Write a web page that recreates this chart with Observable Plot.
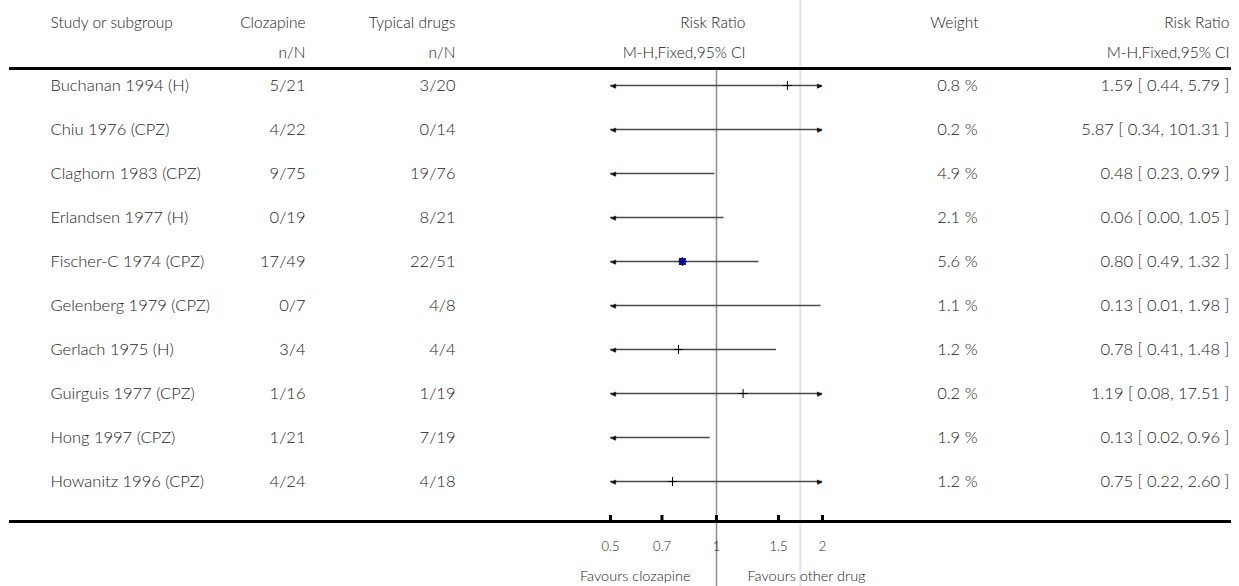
<!DOCTYPE html>
<html><head><meta charset="utf-8">
<script src="https://cdn.jsdelivr.net/npm/d3@7"></script>
<script src="https://cdn.jsdelivr.net/npm/@observablehq/plot@0.6"></script>
<style>
body{margin:0;background:#fff;}
</style></head><body><div id="chart"></div>
<script>
const studies = ["Buchanan 1994 (H)", "Chiu 1976 (CPZ)", "Claghorn 1983 (CPZ)", "Erlandsen 1977 (H)", "Fischer-C 1974 (CPZ)", "Gelenberg 1979 (CPZ)", "Gerlach 1975 (H)", "Guirguis 1977 (CPZ)", "Hong 1997 (CPZ)", "Howanitz 1996 (CPZ)"];
const clozapineEvents = [5, 4, 9, 0, 17, 0, 3, 1, 1, 4];
const clozapineTotal = [21, 22, 75, 19, 49, 7, 4, 16, 21, 24];
const typicalEvents = [3, 0, 19, 8, 22, 4, 4, 1, 7, 4];
const typicalTotal = [20, 14, 76, 21, 51, 8, 4, 19, 19, 18];
const weights = [0.8, 0.2, 4.9, 2.1, 5.6, 1.1, 1.2, 0.2, 1.9, 1.2];
const riskRatio = [1.59, 5.87, 0.48, 0.06, 0.80, 0.13, 0.78, 1.19, 0.13, 0.75];
const ciLower = [0.44, 0.34, 0.23, 0.00, 0.49, 0.01, 0.41, 0.08, 0.02, 0.22];
const ciUpper = [5.79, 101.31, 0.99, 1.05, 1.32, 1.98, 1.48, 17.51, 0.96, 2.60];
const axisDomain = [0.5, 2];
const axisTicks = [0.5, 0.7, 1, 1.5, 2];
const nullEffect = [1];
const dividerValue = [1.73];
const headerTop = ["Study or subgroup", "Clozapine", "Typical drugs", "Risk Ratio", "Weight", "Risk Ratio"];
const headerSub = ["n/N", "n/N", "M-H,Fixed,95% CI", "", "M-H,Fixed,95% CI"];
const favours = ["Favours clozapine", "Favours other drug"];

const [lo, hi] = axisDomain;
const rows = studies.map((s, i) => ({
  study: s,
  cloz: `${clozapineEvents[i]}/${clozapineTotal[i]}`,
  typ: `${typicalEvents[i]}/${typicalTotal[i]}`,
  weight: weights[i],
  weightText: `${weights[i].toFixed(1)} %`,
  rr: riskRatio[i],
  lo: ciLower[i],
  hi: ciUpper[i],
  x1: Math.max(ciLower[i], lo),
  x2: Math.min(ciUpper[i], hi),
  rrText: `${riskRatio[i].toFixed(2)} [ ${ciLower[i].toFixed(2)}, ${ciUpper[i].toFixed(2)} ]`
}));
const inDomain = rows.filter(d => d.rr >= lo && d.rr <= hi);

// column layout (offsets from the frame's left edge)
const colDx = [40, 295, 445, 735, 968];
const txt = "#222";
const FS = 15.5;
const FR = 16.5;
const FW = 300;

const headerMarks = [];
headerTop.forEach((h, i) => {
  if (i === 5) {
    headerMarks.push(Plot.text([h], {text: d => d, frameAnchor: "top-right", dy: -52, textAnchor: "end", fontSize: FS, fontWeight: FW, fill: txt}));
  } else {
    headerMarks.push(Plot.text([h], {text: d => d, frameAnchor: "top-left", dx: colDx[i], dy: -52, textAnchor: i === 0 ? "start" : "end", fontSize: FS, fontWeight: FW, fill: txt}));
  }
});
headerSub.forEach((h, i) => {
  if (!h) return;
  if (i === 4) {
    headerMarks.push(Plot.text([h], {text: d => d, frameAnchor: "top-right", dy: -22, textAnchor: "end", fontSize: FS, fontWeight: FW, fill: txt}));
  } else {
    headerMarks.push(Plot.text([h], {text: d => d, frameAnchor: "top-left", dx: colDx[i + 1], dy: -22, textAnchor: "end", fontSize: FS, fontWeight: FW, fill: txt}));
  }
});

const chart = Plot.plot({
  width: 1239,
  height: 586,
  marginLeft: 10,
  marginRight: 10,
  marginTop: 68,
  marginBottom: 65,
  style: {fontFamily: "Lato, 'Open Sans', sans-serif", background: "#fff", color: txt},
  x: {type: "log", domain: axisDomain, insetLeft: 600, insetRight: 407},
  y: {type: "point", domain: studies, padding: 0, insetTop: 17, insetBottom: 40, axis: null},
  r: {type: "linear", domain: [0, d3.max(weights)], range: [0, 3.95]},
  marks: [
    Plot.ruleX(dividerValue, {stroke: "#e4e4e4", strokeWidth: 2, insetTop: -68, insetBottom: -65}),
    Plot.ruleX(nullEffect, {stroke: "#8c8c8c", strokeWidth: 1.5, insetBottom: -65}),
    Plot.frame({anchor: "top", stroke: "#000", strokeWidth: 3}),
    Plot.frame({anchor: "bottom", stroke: "#000", strokeWidth: 3}),
    Plot.ruleX(axisTicks, {stroke: "#000", strokeWidth: 3, insetTop: 447}),
    Plot.axisX({ticks: axisTicks, tickSize: 0, tickPadding: 20, tickFormat: d => String(d), label: null, fontSize: 13, fontWeight: FW, fill: txt}),
    Plot.ruleY(rows, {y: "study", x1: "x1", x2: "x2", stroke: "#4a4a4a", strokeWidth: 1.5}),
    Plot.text(rows.filter(d => d.lo < lo), {y: "study", x: () => lo, text: () => "◀", textAnchor: "start", fontSize: 7, fontFamily: "DejaVu Sans", fill: "#111"}),
    Plot.text(rows.filter(d => d.hi > hi), {y: "study", x: () => hi, text: () => "▶", textAnchor: "end", fontSize: 7, fontFamily: "DejaVu Sans", fill: "#111"}),
    Plot.dot(inDomain, {x: "rr", y: "study", r: "weight", symbol: "square", fill: "#0000ff", stroke: null}),
    Plot.dot(inDomain, {x: "rr", y: "study", symbol: "plus", r: 3, stroke: "#000", strokeWidth: 1}),
    Plot.text(rows, {y: "study", text: "study", frameAnchor: "left", dx: colDx[0], textAnchor: "start", fontSize: FR, fontWeight: FW, fill: txt}),
    Plot.text(rows, {y: "study", text: "cloz", frameAnchor: "left", dx: colDx[1], textAnchor: "end", fontSize: FR, fontWeight: FW, fill: txt}),
    Plot.text(rows, {y: "study", text: "typ", frameAnchor: "left", dx: colDx[2], textAnchor: "end", fontSize: FR, fontWeight: FW, fill: txt}),
    Plot.text(rows, {y: "study", text: "weightText", frameAnchor: "left", dx: colDx[4] - 1, textAnchor: "end", fontSize: FR, fontWeight: FW, fill: txt}),
    Plot.text(rows, {y: "study", text: "rrText", frameAnchor: "right", textAnchor: "end", fontSize: FR, fontWeight: FW, fill: txt}),
    ...headerMarks,
    Plot.text([favours[0]], {text: d => d, x: () => nullEffect[0], frameAnchor: "bottom", dy: 59, dx: -26, textAnchor: "end", fontSize: 14.5, fontWeight: FW, fill: txt}),
    Plot.text([favours[1]], {text: d => d, x: () => nullEffect[0], frameAnchor: "bottom", dy: 59, dx: 31, textAnchor: "start", fontSize: 14.5, fontWeight: FW, fill: txt})
  ]
});
document.getElementById("chart").appendChild(chart);
</script>
</body></html>
